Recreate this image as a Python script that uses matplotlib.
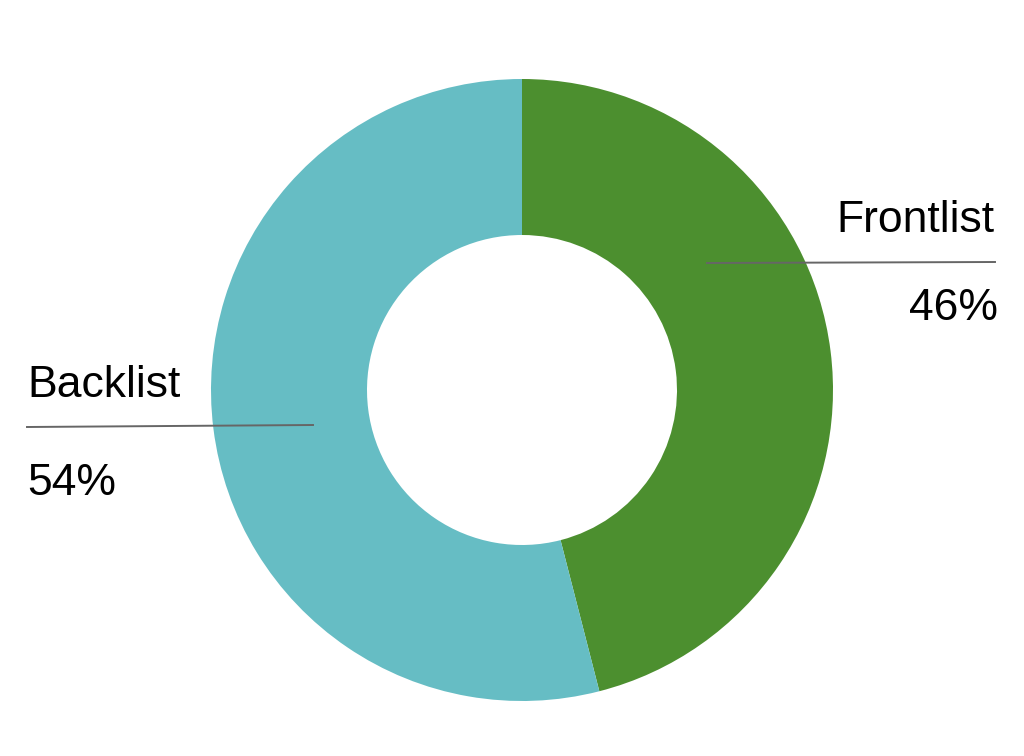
import matplotlib
matplotlib.use("Agg")
import matplotlib.pyplot as plt

# data
labels = ["Frontlist", "Backlist"]
shares = [46, 54]
colors = ["#4c8f2f", "#66bdc4"]

W, H = 1024, 756
fig = plt.figure(figsize=(W / 100, H / 100), dpi=100)
ax = fig.add_axes([0, 0, 1, 1])

# donut in pixel coordinates (y measured from bottom)
cx, cy, r = 522, H - 390, 311
ax.pie(shares, colors=colors, startangle=90, counterclock=False,
       center=(cx, cy), radius=r, frame=True,
       wedgeprops=dict(width=156, edgecolor="none"))
ax.set_xlim(0, W)
ax.set_ylim(0, H)
ax.set_aspect("equal")
ax.axis("off")

font = dict(family=["Liberation Sans", "DejaVu Sans"], fontsize=32, color="black")
line_kw = dict(color="#666666", linewidth=1.4)

# Frontlist label (right side)
ax.plot([707, 995], [H - 263, H - 262], **line_kw)
ax.text(995, H - 232, labels[0], ha="right", va="baseline", **font)
ax.text(998, H - 320, f"{shares[0]}%", ha="right", va="baseline", **font)

# Backlist label (left side)
ax.plot([27, 313], [H - 427, H - 425], **line_kw)
ax.text(27, H - 397, labels[1], ha="left", va="baseline", **font)
ax.text(27, H - 495, f"{shares[1]}%", ha="left", va="baseline", **font)

fig.savefig("out.png", dpi=100)
